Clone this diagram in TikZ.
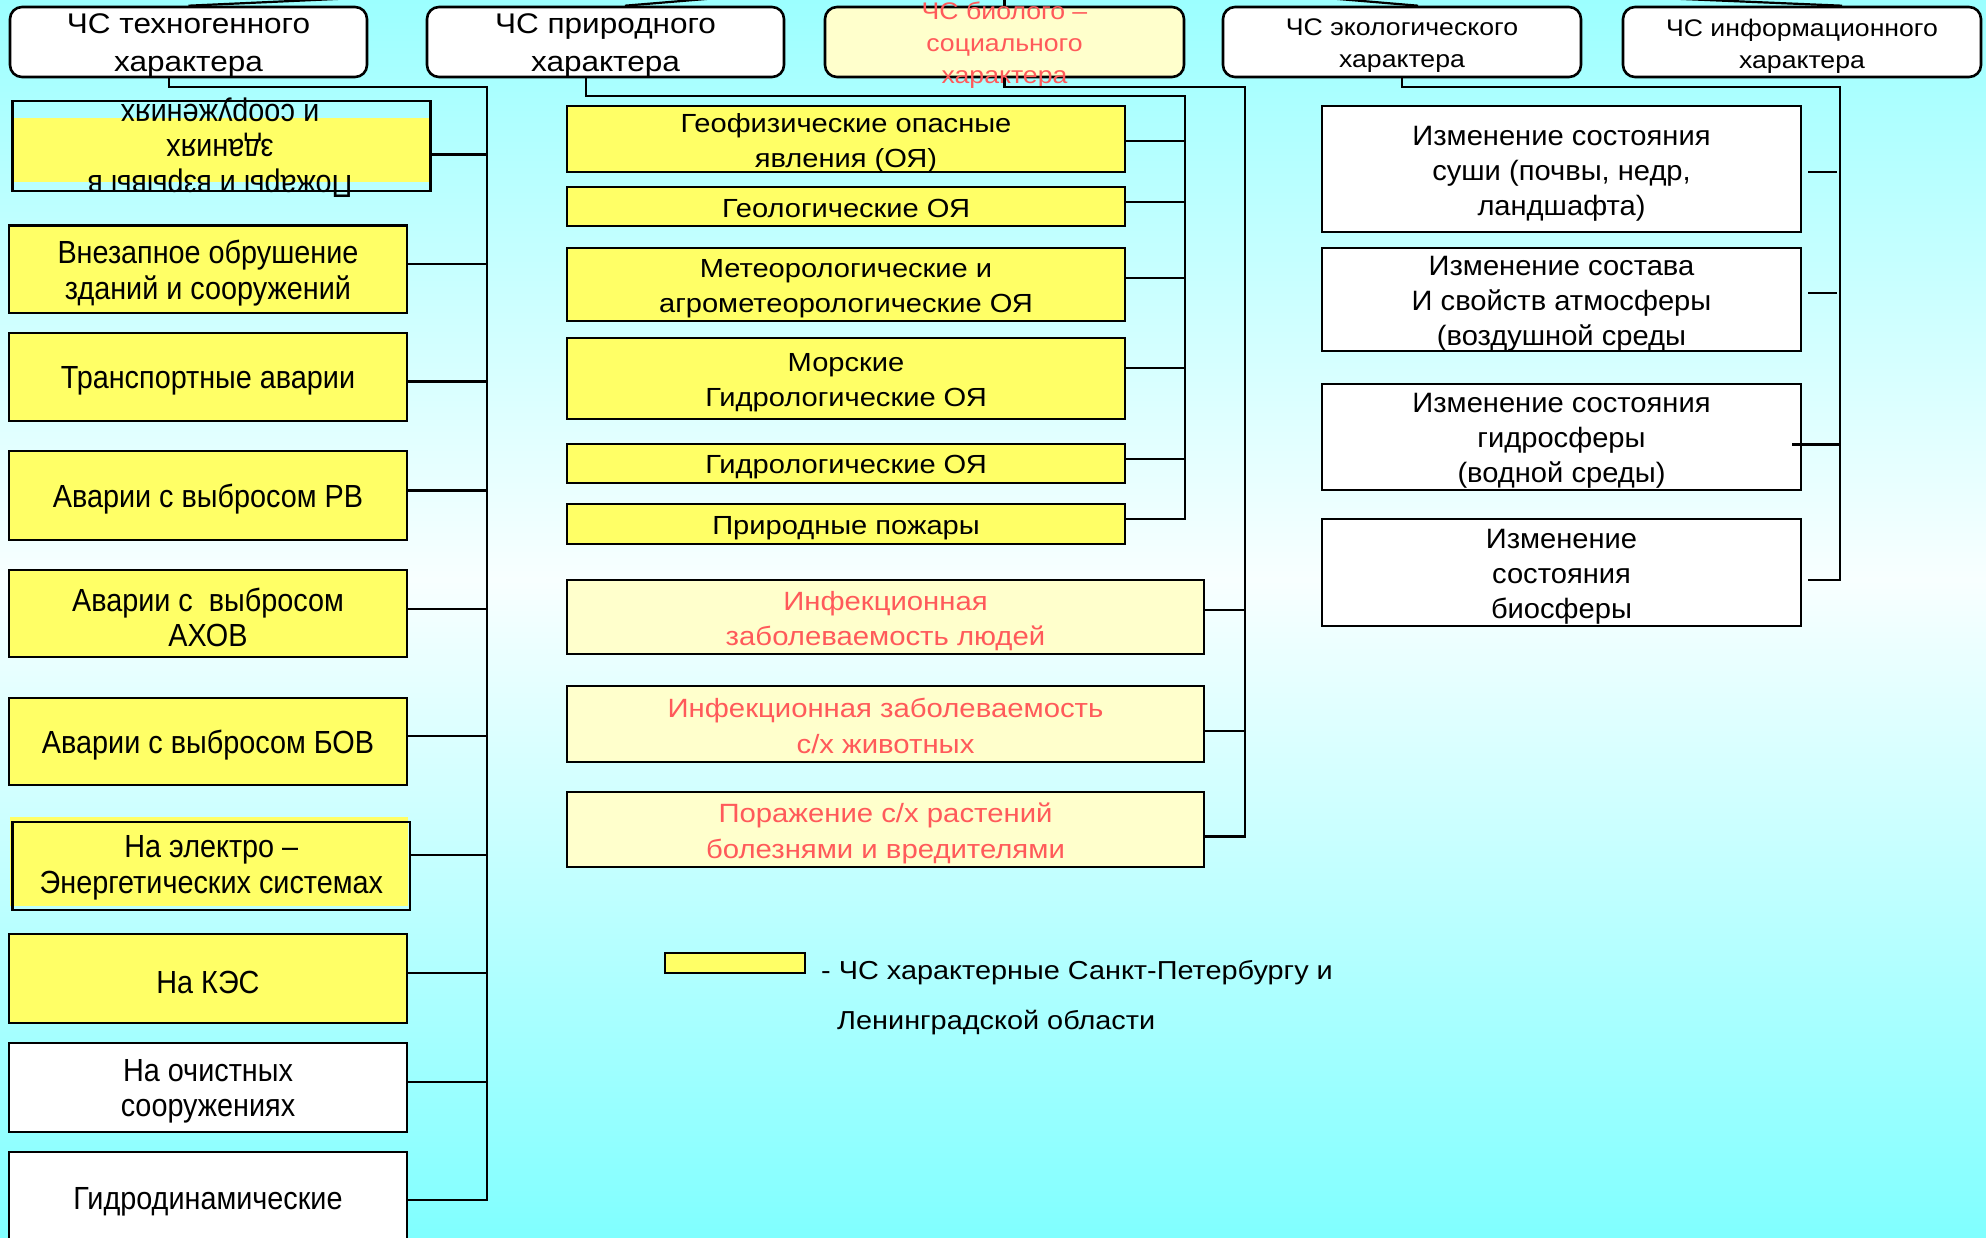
\documentclass[tikz,border=0pt]{standalone}
\usepackage{fontspec}
\setmainfont{Liberation Sans}
\newfontfamily\fA{Liberation Sans}[FakeStretch=0.9]
\newfontfamily\fB{Liberation Sans}[FakeStretch=1.11]
\newfontfamily\fC{Liberation Sans}[FakeStretch=1.04]
\usetikzlibrary{calc}
\definecolor{yel}{HTML}{FFFF66}
\definecolor{lyel}{HTML}{FFFFCC}
\definecolor{redt}{HTML}{FF5A5A}
\definecolor{bgtop}{HTML}{9CFFFF}
\definecolor{bgmid}{HTML}{F8FFFF}
\definecolor{bgbot}{HTML}{80FFFF}
% #1 name, #2-#5 box corners, #6 style, #7 text shift down, #8 text
\newcommand{\mkbox}[8]{%
  \node[#6, minimum width={#4-#2}, minimum height={#5-#3}] (#1) at ({(#2+#4)/2},{(#3+#5)/2}) {};
  \node[#6, draw=none, fill=none, rounded corners=0pt] (#1t) at ([yshift=-#7pt]#1.center) {#8};}
\newcommand{\mkconn}[3]{\path (#1.east) ++(0,#2) coordinate (#1c); \draw[conn] (#1c) -- (#1c -| #3);}
\tikzset{
  boxbase/.style={draw=black, line width=2.6pt, inner sep=0pt, align=center},
  lfont/.style={font=\fA\fontsize{32}{35.5}\selectfont},
  lbox/.style={boxbase, fill=yel, lfont},
  lwbox/.style={lbox, fill=white},
  mbox/.style={boxbase, fill=yel, font=\fB\fontsize{26.2}{35}\selectfont},
  sbox/.style={boxbase, fill=lyel, text=redt, font=\fB\fontsize{26.4}{35.5}\selectfont},
  ebox/.style={boxbase, fill=white, font=\fC\fontsize{28}{35}\selectfont},
  tbig/.style={boxbase, rounded corners=12pt, fill=white, font=\fB\fontsize{28.4}{38}\selectfont},
  tsmall/.style={boxbase, rounded corners=12pt, fill=white, font=\fB\fontsize{24}{32}\selectfont},
  conn/.style={draw=black, line width=2.2pt},
}
\begin{document}
\begin{tikzpicture}[x=1pt,y=-1pt]
\useasboundingbox (0,0) rectangle (1986,1237);
% background
\fill[top color=bgtop, bottom color=bgmid] (0,0) rectangle (1986,580);
\fill[top color=bgmid, bottom color=bgbot] (0,580) rectangle (1986,1237);

% top boxes
\mkbox{B1}{10}{7}{367}{77}{tbig}{4}{ЧС техногенного\\характера}
\mkbox{B2}{427}{7}{784}{77}{tbig}{4}{ЧС природного\\характера}
\mkbox{B3}{825}{7}{1184}{77}{tsmall, fill=lyel, text=redt}{3}{ЧС биолого –\\социального\\характера}
\mkbox{B4}{1223}{7}{1581}{77}{tsmall}{4}{ЧС экологического\\характера}
\mkbox{B5}{1623}{7}{1981}{77}{tsmall}{4}{ЧС информационного\\характера}

% left column
\fill[yel] (12.7,118) rectangle (430.6,182);
\node[boxbase, minimum width=417.9, minimum height=90] (L1) at (221.65,146) {};
\node[lfont, align=center, inner sep=0pt, rotate=180] (L1t) at (220,147.5) {Пожары и взрывы в\\зданиях\\и сооружениях};
\mkbox{L2}{9}{225.5}{407}{313}{lbox}{4}{Внезапное обрушение\\зданий и сооружений}
\mkbox{L3}{9}{333}{407}{421}{lbox}{4}{Транспортные аварии}
\mkbox{L4}{9}{451}{407}{540}{lbox}{4}{Аварии с выбросом РВ}
\mkbox{L5}{9}{570}{407}{657}{lbox}{4}{Аварии с~ выбросом\\АХОВ}
\mkbox{L6}{9}{698}{407}{785}{lbox}{4}{Аварии с выбросом БОВ}
\fill[yel] (10,817) rectangle (408,906);
\mkbox{L7}{12.7}{822}{410}{910}{lbox, fill=none}{2}{На электро –\\Энергетических системах}
\mkbox{L8}{9}{934}{407}{1023}{lbox}{4}{На КЭС}
\mkbox{L9}{9}{1043}{407}{1132}{lwbox}{4}{На очистных\\сооружениях}
\mkbox{L10}{9}{1152}{407}{1245}{lwbox}{3}{Гидродинамические}

% middle column
\mkbox{M1}{567}{106}{1125}{172}{mbox}{4}{Геофизические опасные\\явления (ОЯ)}
\mkbox{M2}{567}{187}{1125}{226}{mbox}{2}{Геологические ОЯ}
\mkbox{M3}{567}{248}{1125}{321}{mbox}{4}{Метеорологические и\\агрометеорологические ОЯ}
\mkbox{M4}{567}{338}{1125}{419}{mbox}{4}{Морские\\Гидрологические ОЯ}
\mkbox{M5}{567}{444}{1125}{483}{mbox}{4}{Гидрологические ОЯ}
\mkbox{M6}{567}{504}{1125}{544}{mbox}{4}{Природные пожары}

% bio-social column
\mkbox{S1}{567}{580}{1204}{654}{sbox}{4}{Инфекционная\\заболеваемость людей}
\mkbox{S2}{567}{686}{1204}{762}{sbox}{2}{Инфекционная заболеваемость\\с/х животных}
\mkbox{S3}{567}{792}{1204}{867}{sbox}{4}{Поражение с/х растений\\болезнями и вредителями}

% ecological column
\mkbox{E1}{1322}{106}{1801}{232}{ebox}{5}{Изменение состояния\\суши (почвы, недр,\\ландшафта)}
\mkbox{E2}{1322}{248}{1801}{351}{ebox}{4}{Изменение состава\\И свойств атмосферы\\(воздушной среды}
\mkbox{E3}{1322}{384}{1801}{490}{ebox}{4}{Изменение состояния\\гидросферы\\(водной среды)}
\mkbox{E4}{1322}{519}{1801}{626}{ebox}{4}{Изменение\\состояния\\биосферы}

% legend
\node[draw=black, line width=2pt, fill=yel, minimum width=140, minimum height=20, inner sep=0pt] (LG) at (735,963) {};
\node[anchor=west, font=\fB\fontsize{26}{35}\selectfont, inner sep=0pt] (LGt1) at (821,973) {- ЧС характерные Санкт-Петербургу и};
\node[anchor=west, font=\fB\fontsize{26}{35}\selectfont, inner sep=0pt] (LGt2) at (837,1023) {Ленинградской области};

% bus coordinates
\coordinate (busLt) at (487,87);
\coordinate (busMt) at (1185,96);
\coordinate (busSt) at (1245,87);
\coordinate (busEt) at (1840,87);
\coordinate (eGap) at (1837,0);

% left connectors
\mkconn{L1}{8.5}{busLt}
\mkconn{L2}{-5}{busLt}
\mkconn{L3}{4.5}{busLt}
\mkconn{L4}{-5}{busLt}
\mkconn{L5}{-4.5}{busLt}
\mkconn{L6}{-5.5}{busLt}
\mkconn{L7}{-11}{busLt}
\mkconn{L8}{-5.5}{busLt}
\mkconn{L9}{-5.5}{busLt}
\path (L10.east) ++(0,1.5) coordinate (L10c);
\draw[conn] ([xshift=-19.5pt]B1.south) |- (busLt) |- (L10c);

% middle connectors
\mkconn{M1}{2}{busMt}
\mkconn{M2}{-4.5}{busMt}
\mkconn{M3}{-6.5}{busMt}
\mkconn{M4}{-10.5}{busMt}
\mkconn{M5}{-4.5}{busMt}
\path (M6.east) ++(0,-5) coordinate (M6c);
\draw[conn] ([xshift=-19.5pt]B2.south) |- (busMt) |- (M6c);

% bio-social connectors
\mkconn{S1}{-7}{busSt}
\mkconn{S2}{7}{busSt}
\path (S3.east) ++(0,7) coordinate (S3c);
\draw[conn] (B3.south) |- (busSt) |- (S3c);

% ecological connectors
\path (E1.east) ++(6,3) coordinate (E1c);
\draw[conn] (E1c) -- (E1c -| eGap);
\path (E2.east) ++(6,-6.5) coordinate (E2c);
\draw[conn] (E2c) -- (E2c -| eGap);
\path (E3.east) ++(-10,7.5) coordinate (E3c);
\draw[conn] (E3c) -- (E3c -| busEt);
\path (E4.east) ++(6,7.5) coordinate (E4c);
\draw[conn] (B4.south) |- (busEt) |- (E4c);

% lines to the parent above
\coordinate (P1) at (424,-5);
\coordinate (P2) at (754,-5);
\coordinate (P3) at (1004.5,-5);
\coordinate (P4) at (1291,-5);
\coordinate (P5) at (1588,-5);
\draw[conn] (B1.north) -- (P1);
\draw[conn] ([xshift=19.5pt]B2.north) -- (P2);
\draw[conn] (B3.north) -- (P3);
\draw[conn] ([xshift=16pt]B4.north) -- (P4);
\draw[conn] ([xshift=40pt]B5.north) -- (P5);
\end{tikzpicture}
\end{document}
